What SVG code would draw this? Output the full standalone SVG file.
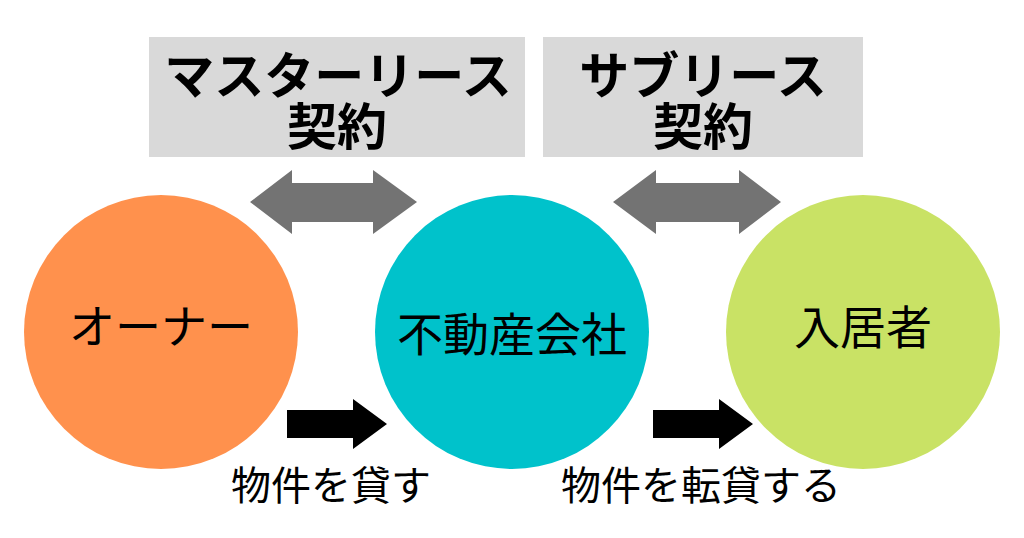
<svg xmlns="http://www.w3.org/2000/svg" width="1024" height="538" viewBox="0 0 1024 538">
<style>
.box{fill:#d9d9d9}
.t{font-family:"Noto Sans CJK JP","Noto Sans CJK SC",sans-serif;text-anchor:middle;fill:#000}
.hd{font-size:50px;font-weight:bold}
.nd{font-size:46px}
.lb{font-size:40px}
.dbl{fill:#737373}
.one{fill:#000}
</style>
<rect width="1024" height="538" fill="#fff"/>
<g id="master-lease">
<rect class="box" x="149" y="37" width="376" height="120"/>
<text class="t hd"><tspan x="338" y="94">マスターリース</tspan><tspan x="337" y="145">契約</tspan></text>
</g>
<g id="sublease">
<rect class="box" x="543" y="37" width="320" height="120"/>
<text class="t hd"><tspan x="703" y="94">サブリース</tspan><tspan x="703" y="145">契約</tspan></text>
</g>
<g id="owner">
<circle cx="161" cy="332" r="137" fill="#ff914d"/>
<text class="t nd" x="161" y="343">オーナー</text>
</g>
<g id="company">
<circle cx="512" cy="332" r="137" fill="#00c2cb"/>
<text class="t nd" x="512" y="351">不動産会社</text>
</g>
<g id="tenant">
<circle cx="863" cy="332" r="137" fill="#c9e265"/>
<text class="t nd" x="863" y="344">入居者</text>
</g>
<g id="connectors">
<polygon class="dbl" points="250,202 292,170 292,183 373,183 373,170 417,202 373,234 373,222 292,222 292,234"/>
<polygon class="dbl" points="613,202 656,170 656,183 739,183 739,170 781,202 739,234 739,222 656,222 656,234"/>
<polygon class="one" points="287,410 353,410 353,399 387,424 353,449 353,438 287,438"/>
<polygon class="one" points="653,410 719,410 719,399 753,424 719,449 719,438 653,438"/>
<text class="t lb" x="331" y="500">物件を貸す</text>
<text class="t lb" x="701" y="500">物件を転貸する</text>
</g>
</svg>
